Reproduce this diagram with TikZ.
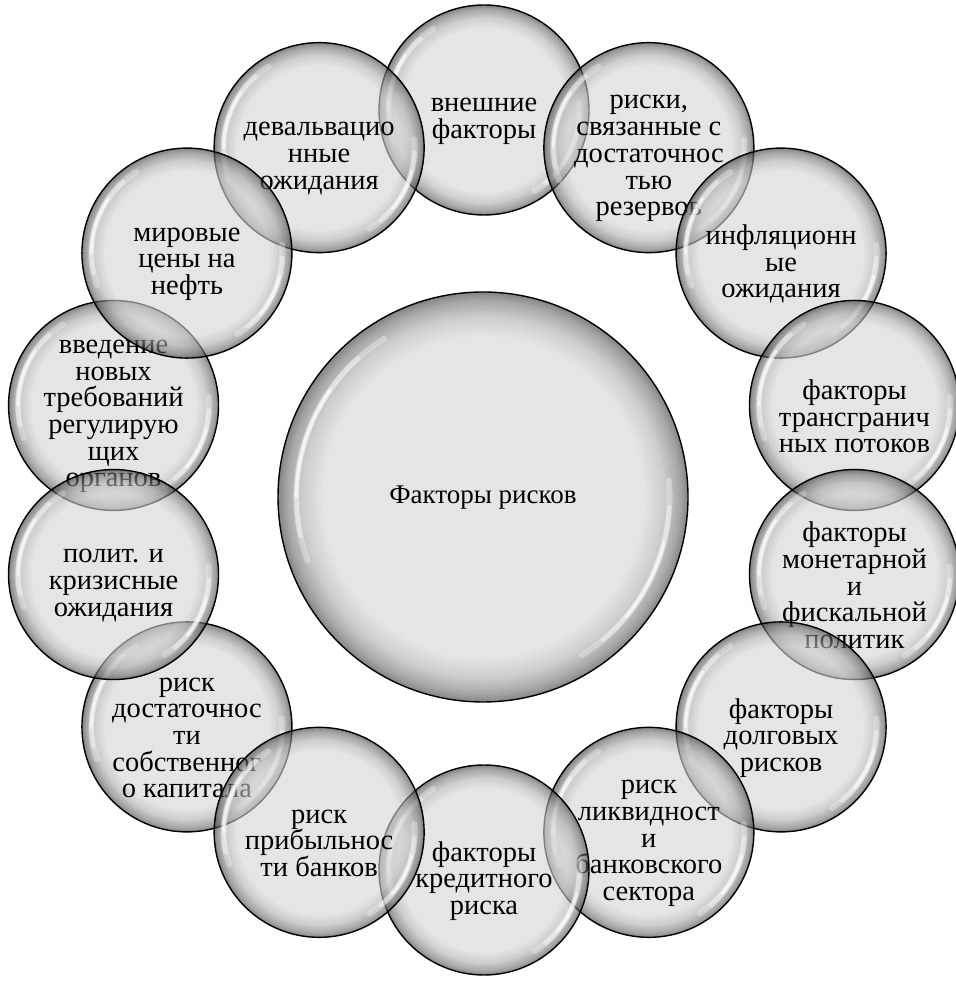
\documentclass[tikz,border=0pt]{standalone}
\usepackage{fontspec}
\setmainfont{Liberation Serif}
\definecolor{bubA}{gray}{0.835}
\definecolor{bubM}{gray}{0.68}
\definecolor{bubB}{gray}{0.42}
\definecolor{bubC}{gray}{0.2}
\pgfdeclareradialshading{bubble}{\pgfpoint{0bp}{0bp}}{color(0bp)=(bubA); color(19.5bp)=(bubA); color(22bp)=(bubM); color(24bp)=(bubB); color(25bp)=(bubC); color(50bp)=(bubC)}
\tikzset{
  bubblestyle/.style={circle, inner sep=0pt, draw=black, line width=1.4pt, shading=bubble, fill opacity=0.6},
  bubtext/.style={align=center, font=\fontsize{28.5}{26.7}\selectfont, text=black, inner sep=0pt},
  hl/.style={white, line cap=round},
}
\newcommand\mybub[5]{%
  \node[bubblestyle, minimum size=#3*2] (#1) at (#2) {};
  \foreach \a/\b/\w/\o in {122/200/6/0.3, 132/192/4.5/0.4, 145/180/3/0.6, -58/5/6/0.3, -50/-3/4.5/0.4, -40/-14/3/0.6}
    \draw[hl, line width=\w, opacity=\o] ([shift={(\a:0.91*#3)}]#1.center) arc[start angle=\a, end angle=\b, radius=0.91*#3];
  \node[bubtext] (#1t) at ([yshift=#5]#1.center) {#4};
}
\begin{document}
\begin{tikzpicture}[x=1pt,y=1pt]
\fill[white] (0,0) rectangle (955,981);
\useasboundingbox (0,0) rectangle (955,981);
\coordinate (C) at (484,491);
\coordinate (M) at (483,484);
\mybub{center}{M}{205}{\fontsize{27}{27}\selectfont Факторы рисков}{-1}
\mybub{b0}{[shift={(90:380)}]C}{105}{внешние\\факторы}{-11}
\mybub{b1}{[shift={(64.286:380)}]C}{105}{риски,\\связанные с\\достаточнос\\тью\\резервов}{-11}
\mybub{b2}{[shift={(38.571:380)}]C}{105}{инфляционн\\ые\\ожидания}{-11}
\mybub{b3}{[shift={(12.857:380)}]C}{105}{факторы\\трансгранич\\ных потоков}{-11}
\mybub{b4}{[shift={(-12.857:380)}]C}{105}{факторы\\монетарной\\и\\фискальной\\политик}{-11}
\mybub{b5}{[shift={(-38.571:380)}]C}{105}{факторы\\долговых\\рисков}{-11}
\mybub{b6}{[shift={(-64.286:380)}]C}{105}{риск\\ликвидност\\и\\банковского\\сектора}{-11}
\mybub{b7}{[shift={(-90:380)}]C}{105}{факторы\\кредитного\\риска}{-11}
\mybub{b9}{[shift={(-141.429:380)}]C}{105}{риск\\достаточнос\\ти\\собственног\\о капитала}{-11}
\mybub{b11}{[shift={(167.143:380)}]C}{105}{введение\\новых\\требований\\регулирую\\щих\\органов}{-11}
\mybub{b13}{[shift={(115.714:380)}]C}{105}{девальвацио\\нные\\ожидания}{-11}
\mybub{b8}{[shift={(-115.714:380)}]C}{105}{риск\\прибыльнос\\ти банков}{-11}
\mybub{b10}{[shift={(-167.143:380)}]C}{105}{полит. и\\кризисные\\ожидания}{-11}
\mybub{b12}{[shift={(141.429:380)}]C}{105}{мировые\\цены на\\нефть}{-11}
\end{tikzpicture}
\end{document}
